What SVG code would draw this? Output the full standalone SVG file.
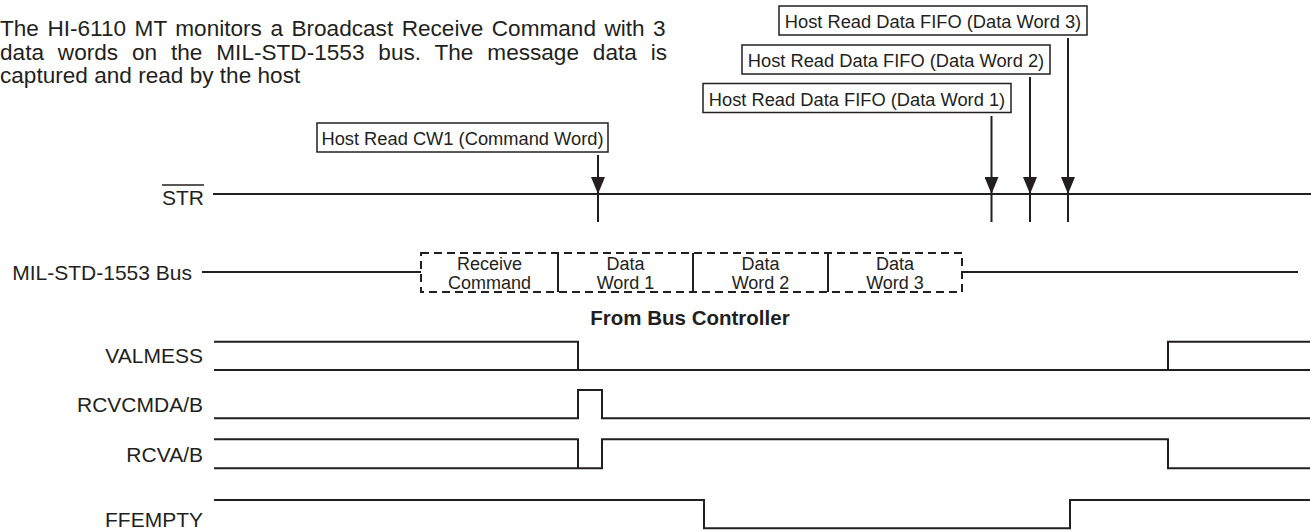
<svg xmlns="http://www.w3.org/2000/svg" width="1311" height="531" viewBox="0 0 1311 531">
<style>
  text { font-family: "Liberation Sans", Arial, sans-serif; fill: #231f20; }
  .para { font-size: 22.6px; }
  .lbl { font-size: 21px; text-anchor: end; }
  .box { fill: #fff; stroke: #231f20; stroke-width: 1.5; }
  .boxtxt { font-size: 18.3px; text-anchor: middle; }
  .sig { fill: none; stroke: #231f20; stroke-width: 2; }
  .dash { fill: none; stroke: #231f20; stroke-width: 2; stroke-dasharray: 8 5; }
  .wtxt { font-size: 18px; text-anchor: middle; }
  .arrow { stroke: #231f20; stroke-width: 2; fill: none; marker-end: url(#ah); }
</style>
<defs>
  <marker id="ah" markerUnits="userSpaceOnUse" markerWidth="17" markerHeight="14" refX="17" refY="7" orient="auto">
    <path d="M0,0 L17,7 L0,14 z" fill="#231f20"/>
  </marker>
</defs>
<rect width="1311" height="531" fill="#fff"/>

<g id="description">
  <text class="para" x="0" y="36" word-spacing="2.2">The HI-6110 MT monitors a Broadcast Receive Command with 3</text>
  <text class="para" x="0" y="59.5" word-spacing="7.6">data words on the MIL-STD-1553 bus. The message data is</text>
  <text class="para" x="0" y="83">captured and read by the host</text>
</g>

<g id="host-read-dw3">
  <rect class="box" x="779" y="6" width="308" height="29"/>
  <text class="boxtxt" x="933" y="28.3">Host Read Data FIFO (Data Word 3)</text>
</g>
<g id="host-read-dw2">
  <rect class="box" x="742" y="45" width="308" height="29"/>
  <text class="boxtxt" x="896" y="67.3">Host Read Data FIFO (Data Word 2)</text>
</g>
<g id="host-read-dw1">
  <rect class="box" x="703" y="83.5" width="308" height="29"/>
  <text class="boxtxt" x="857" y="105.8">Host Read Data FIFO (Data Word 1)</text>
</g>
<g id="host-read-cw1">
  <rect class="box" x="317" y="123" width="291" height="29"/>
  <text class="boxtxt" x="462.5" y="145.3">Host Read CW1 (Command Word)</text>
</g>

<g id="connectors">
  <line class="arrow" x1="598" y1="155" x2="598" y2="194"/>
  <line class="arrow" x1="991.5" y1="116" x2="991.5" y2="194"/>
  <line class="arrow" x1="1030" y1="77" x2="1030" y2="194"/>
  <line class="arrow" x1="1068" y1="38" x2="1068" y2="194"/>
</g>

<g id="sig-str">
  <text class="lbl" x="204" y="205">STR</text>
  <line x1="162" y1="185" x2="204" y2="185" stroke="#231f20" stroke-width="1.5"/>
  <line class="sig" x1="213" y1="194" x2="1311" y2="194"/>
  <path class="sig" d="M598,194 V222 M991.5,194 V222 M1030,194 V222 M1068,194 V222"/>
</g>

<g id="sig-bus">
  <text class="lbl" x="192" y="279.5">MIL-STD-1553 Bus</text>
  <line class="sig" x1="202" y1="272" x2="421" y2="272"/>
  <line class="sig" x1="962" y1="272" x2="1298" y2="272"/>
  <rect class="dash" x="421" y="253" width="541" height="39"/>
  <path class="sig" d="M558,253 V292 M693,253 V292 M828,253 V292"/>
  <text class="wtxt" x="489.5" y="270">Receive</text>
  <text class="wtxt" x="489.5" y="289">Command</text>
  <text class="wtxt" x="625.5" y="270">Data</text>
  <text class="wtxt" x="625.5" y="289">Word 1</text>
  <text class="wtxt" x="760.5" y="270">Data</text>
  <text class="wtxt" x="760.5" y="289">Word 2</text>
  <text class="wtxt" x="895" y="270">Data</text>
  <text class="wtxt" x="895" y="289">Word 3</text>
  <text x="690" y="325" font-size="20.5" font-weight="bold" text-anchor="middle">From Bus Controller</text>
</g>

<g id="sig-valmess">
  <text class="lbl" x="203" y="363">VALMESS</text>
  <path class="sig" d="M214,341.7 H578 V370 M214,370 H1310 M1168,370 V341.7 H1310"/>
</g>

<g id="sig-rcvcmd">
  <text class="lbl" x="203" y="411.5">RCVCMDA/B</text>
  <path class="sig" d="M214,418.3 H578 V390 H602 V418.3 H1310"/>
</g>

<g id="sig-rcva">
  <text class="lbl" x="203" y="461.5">RCVA/B</text>
  <path class="sig" d="M214,439.3 H578 V468.3 M214,468.3 H602 V439.3 H1168 V468.3 H1310"/>
</g>

<g id="sig-ffempty">
  <text class="lbl" x="203" y="527">FFEMPTY</text>
  <path class="sig" d="M214,500 H704 V528.3 H1070 V500 H1310"/>
</g>
</svg>
